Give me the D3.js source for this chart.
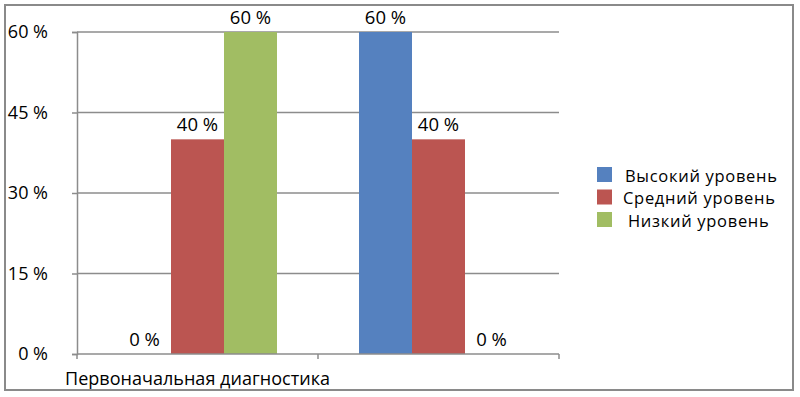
<!DOCTYPE html>
<html><head><meta charset="utf-8">
<script src="https://cdn.jsdelivr.net/npm/d3@7"></script>
<style>html,body{margin:0;padding:0;background:#fff;}svg{display:block;font-family:"Open Sans",sans-serif;}</style>
</head><body>
<svg id="c" width="800" height="397"></svg>
<script>
const categories = ["Первоначальная диагностика", ""];
const seriesNames = ["Высокий уровень", "Средний уровень", "Низкий уровень"];
const seriesColors = ["#5581bf", "#bb5551", "#a1bd63"];
const high = [0, 60];
const mid = [40, 40];
const low = [60, 0];
const yTicks = [0, 15, 30, 45, 60];

const seriesValues = [high, mid, low];
const svg = d3.select("#c");
const m = {l: 77, r: 559, t: 32, b: 354};

svg.append("rect").attr("x", 5).attr("y", 5).attr("width", 788).attr("height", 385)
  .attr("fill", "#fff").attr("stroke", "#8a8a8a").attr("stroke-width", 2);

const x0 = d3.scaleBand().domain(d3.range(categories.length)).range([m.l, m.r]).paddingInner(0).paddingOuter(0);
const x1 = d3.scaleBand().domain(d3.range(seriesNames.length)).range([0, x0.bandwidth()]).paddingInner(0).paddingOuter(41 / 53);
const y = d3.scaleLinear().domain([0, 60]).range([m.b, m.t]);

svg.append("g").selectAll("line").data(yTicks.filter(d => d > 0)).join("line")
  .attr("x1", m.l).attr("x2", m.r).attr("y1", d => y(d)).attr("y2", d => y(d))
  .attr("stroke", "#8c8c8c").attr("stroke-width", 1.5);

const ya = svg.append("g").attr("transform", `translate(${m.l},0)`)
  .call(d3.axisLeft(y).tickValues(yTicks).tickSize(5).tickFormat(d => d + " %"));
ya.select(".domain").attr("stroke", "#8c8c8c").attr("stroke-width", 1.5);
ya.selectAll(".tick line").attr("stroke", "#8c8c8c").attr("stroke-width", 1.5);
ya.selectAll(".tick text").attr("x", -29).attr("font-size", 18)
  .attr("font-family", "Open Sans").attr("fill", "#000");

const groups = svg.append("g").selectAll("g").data(categories).join("g")
  .attr("transform", (d, i) => `translate(${x0(i)},0)`);
groups.each(function(c, ci) {
  const g = d3.select(this);
  seriesValues.forEach((vals, si) => {
    const v = vals[ci];
    if (v > 0) {
      g.append("rect").attr("x", x1(si)).attr("width", x1.bandwidth())
        .attr("y", y(v)).attr("height", y(0) - y(v)).attr("fill", seriesColors[si]);
    }
    g.append("text").attr("x", x1(si) + x1.bandwidth() / 2).attr("y", y(v) - 8.5)
      .attr("text-anchor", "middle").attr("font-size", 18.5).attr("fill", "#000")
      .text(v + " %");
  });
});

const xa = svg.append("g").attr("transform", `translate(0,${m.b})`);
xa.append("line").attr("x1", m.l).attr("x2", m.r).attr("stroke", "#8c8c8c").attr("stroke-width", 1.5);
const xTickPos = d3.range(categories.length + 1).map(i => i < categories.length ? x0(i) : m.r);
xa.selectAll(".xt").data(xTickPos).join("line").attr("class", "xt")
  .attr("x1", d => d).attr("x2", d => d).attr("y1", 0).attr("y2", 5)
  .attr("stroke", "#8c8c8c").attr("stroke-width", 1.5);
xa.selectAll(".xl").data(categories.filter(d => d)).join("text").attr("class", "xl")
  .attr("x", (d, i) => x0(i) + x0.bandwidth() / 2).attr("y", 31)
  .attr("text-anchor", "middle").attr("font-size", 18).attr("fill", "#000")
  .attr("textLength", 265).attr("lengthAdjust", "spacing").text(d => d);

const lg = svg.append("g").attr("transform", "translate(597,167)");
const rows = lg.selectAll("g").data(seriesNames).join("g")
  .attr("transform", (d, i) => `translate(0,${i * 22.5})`);
rows.append("rect").attr("width", 15).attr("height", 15).attr("fill", (d, i) => seriesColors[i]);
rows.append("text").attr("x", (d, i) => [28, 26, 31][i]).attr("y", 14.5)
  .attr("font-size", 16.5).attr("letter-spacing", 0.7).attr("fill", "#000")
  .text(d => d);
</script>
</body></html>
